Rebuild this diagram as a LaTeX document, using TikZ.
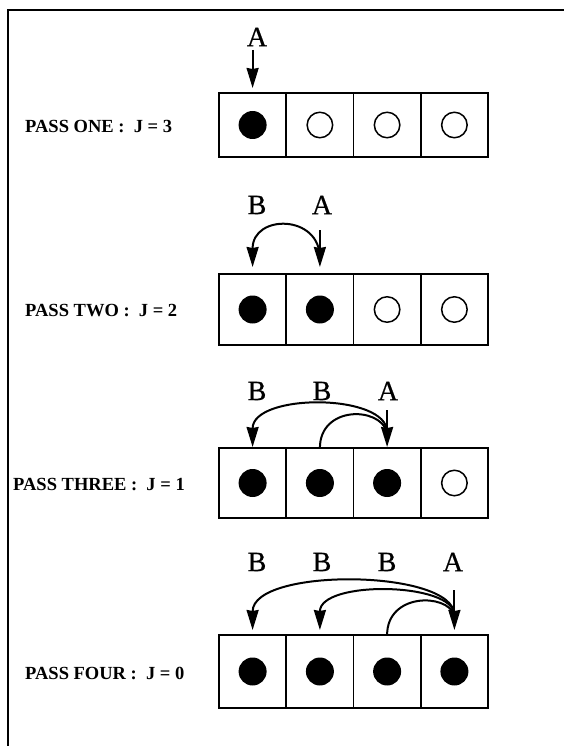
\documentclass[tikz,border=0pt]{standalone}
\usepackage{fontspec}
\setmainfont{Liberation Serif}
\newfontfamily\bigletters[FakeBold=0.6]{Liberation Serif}
\usetikzlibrary{arrows.meta,calc}
\begin{document}
\begin{tikzpicture}[x=1pt,y=-1pt,
  frame/.style={line width=2.2pt},
  cell/.style={draw,line width=1.8pt,minimum width=67.25pt,inner sep=0pt,outer sep=0pt},
  full/.style={circle,fill=black,minimum size=28pt,inner sep=0pt},
  empty/.style={circle,draw,line width=1.5pt,minimum size=25.5pt,inner sep=0pt},
  passlbl/.style={anchor=west,font=\fontsize{18.5}{21}\selectfont\bfseries,inner sep=0pt},
  letter/.style={font=\bigletters\fontsize{28}{30}\selectfont,inner sep=0pt},
  arr/.style={line width=2pt,-{Stealth[length=20pt,width=12pt,inset=1pt]}},
  plain/.style={line width=2pt}]
\useasboundingbox (0,0) rectangle (564,746);
% frame
\coordinate (f1) at (570,10);
\coordinate (f2) at (8,10);
\coordinate (f3) at (8,750);
\draw[frame] (f1) -- (f2) -- (f3);

% ---------- row 1
\foreach \i/\x in {1/252.6,2/319.9,3/387.1,4/454.4}{
  \node[cell,minimum height=64pt] (a\i) at (\x,125) {};
}
\node[full] (da1) at (a1) {};
\node[empty] (da2) at (a2) {};
\node[empty] (da3) at (a3) {};
\node[empty] (da4) at (a4) {};
\node[passlbl] (p1) at (25,127) {PASS ONE :\ \ J = 3};
\node[letter] (A1) at (257,37) {A};
\draw[arr] ($(a1.north)+(0,-43)$) -- ($(a1.north)+(0,-5)$);

% ---------- row 2
\foreach \i/\x in {1/252.6,2/319.9,3/387.1,4/454.4}{
  \node[cell,minimum height=71pt] (b\i) at (\x,309.5) {};
}
\node[full] (db1) at (b1) {};
\node[full] (db2) at (b2) {};
\node[empty] (db3) at (b3) {};
\node[empty] (db4) at (b4) {};
\node[passlbl] (p2) at (25,311) {PASS TWO :\ \ J = 2};
\node[letter] (B21) at (257,205) {B};
\node[letter] (A2) at (322,205) {A};
\draw[arr] ($(b2.north)+(0,-44)$) -- ($(b2.north)+(0,-7)$);
\draw[arr] ($(b2.north)+(0,-16)$) .. controls ($(b2.north)+(0,-60)$) and ($(b1.north)+(0,-60)$) .. ($(b1.north)+(0,-7)$);

% ---------- row 3
\foreach \i/\x in {1/252.6,2/319.9,3/387.1,4/454.4}{
  \node[cell,minimum height=70pt] (c\i) at (\x,483) {};
}
\node[full] (dc1) at (c1) {};
\node[full] (dc2) at (c2) {};
\node[full] (dc3) at (c3) {};
\node[empty] (dc4) at (c4) {};
\node[passlbl] (p3) at (13,485) {PASS THREE :\ \ J = 1};
\node[letter] (B31) at (257,391) {B};
\node[letter] (B32) at (322,391) {B};
\node[letter] (A3) at (388,391) {A};
\draw[arr] ($(c3.north)+(0,-38)$) -- ($(c3.north)+(0,-1)$);
\draw[arr] ($(c3.north)+(0,-16)$) .. controls ($(c3.north)+(0,-55)$) and ($(c1.north)+(0,-55)$) .. ($(c1.north)+(0,-1)$);
\draw[plain] (c2.north) .. controls ($(c2.north)+(0,-42)$) and ($(c3.north)+(-8,-42)$) .. ($(c3.north)+(0,-16)$);

% ---------- row 4
\foreach \i/\x in {1/252.6,2/319.9,3/387.1,4/454.4}{
  \node[cell,minimum height=73pt] (e\i) at (\x,671.5) {};
}
\node[full] (de1) at (e1) {};
\node[full] (de2) at (e2) {};
\node[full] (de3) at (e3) {};
\node[full] (de4) at (e4) {};
\node[passlbl] (p4) at (25,673) {PASS FOUR :\ \ J = 0};
\node[letter] (B41) at (257,562) {B};
\node[letter] (B42) at (322,562) {B};
\node[letter] (B43) at (387,562) {B};
\node[letter] (A4) at (453,562) {A};
\draw[arr] ($(e4.north)+(0,-45)$) -- ($(e4.north)+(0,-5)$);
\draw[arr] ($(e4.north)+(0,-20)$) .. controls ($(e4.north)+(0,-66)$) and ($(e1.north)+(0,-68)$) .. ($(e1.north)+(0,-5)$);
\draw[arr] ($(e4.north)+(0,-20)$) .. controls ($(e4.north)+(0,-53)$) and ($(e2.north)+(0,-55)$) .. ($(e2.north)+(0,-5)$);
\draw[plain] (e3.north) .. controls ($(e3.north)+(0,-42)$) and ($(e4.north)+(-8,-42)$) .. ($(e4.north)+(0,-20)$);
\end{tikzpicture}
\end{document}
